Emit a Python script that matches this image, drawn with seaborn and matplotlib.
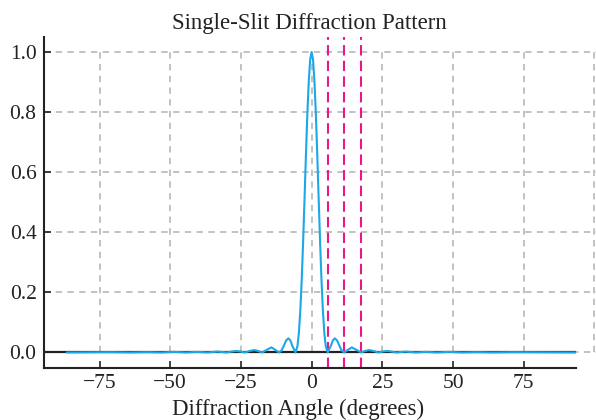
import matplotlib
matplotlib.use("Agg")
import matplotlib.pyplot as plt
import seaborn as sns
import pandas as pd

# Angles (degrees) and relative intensity
angle_deg = [
    -86.6, -71.6, -64.2, -58.1, -53.1, -48.5, -44.4, -40.4, -36.9, -33.2,
    -30.0, -28.3, -26.6, -25.1, -23.6, -21.9, -20.3, -18.9, -17.5, -15.6,
    -14.2, -12.9, -11.5, -10.6, -9.8, -9.0, -8.2, -7.5, -6.9, -5.7,
    -5.0, -4.5, -4.0, -3.5, -3.0, -2.5, -2.0, -1.5, -1.0, -0.5,
    0.0,
    0.5, 1.0, 1.5, 2.0, 2.5, 3.0, 3.5, 4.0, 4.5, 5.0,
    5.7, 6.9, 7.5, 8.2, 9.0, 9.8, 10.6, 11.5, 12.9, 14.2,
    15.6, 17.5, 18.9, 20.3, 21.9, 23.6, 25.1, 26.6, 28.3, 30.0,
    33.2, 36.9, 40.4, 44.4, 48.5, 53.1, 58.1, 64.2, 71.6, 93.4,
]
intensity = [
    0.000, 0.001, 0.000, 0.001, 0.000, 0.002, 0.000, 0.002, 0.000, 0.003,
    0.000, 0.003, 0.005, 0.003, 0.000, 0.005, 0.008, 0.005, 0.000, 0.010,
    0.017, 0.009, 0.000, 0.007, 0.023, 0.040, 0.047, 0.040, 0.024, 0.000,
    0.021, 0.065, 0.138, 0.241, 0.368, 0.511, 0.659, 0.794, 0.904, 0.975,
    1.000,
    0.975, 0.904, 0.794, 0.659, 0.511, 0.368, 0.241, 0.138, 0.065, 0.021,
    0.000, 0.024, 0.040, 0.047, 0.040, 0.023, 0.007, 0.000, 0.009, 0.017,
    0.010, 0.000, 0.005, 0.008, 0.005, 0.000, 0.003, 0.005, 0.003, 0.000,
    0.003, 0.000, 0.002, 0.000, 0.002, 0.000, 0.001, 0.000, 0.001, 0.000,
]
# first three minima marked with dashed lines
minima_deg = [5.74, 11.54, 17.46]

x_ticks = [-75, -50, -25, 0, 25, 50, 75]
x_grid = [-75, -50, -25, 0, 25, 50, 75, 100]
y_ticks = [0.0, 0.2, 0.4, 0.6, 0.8, 1.0]

df = pd.DataFrame({"angle": angle_deg, "intensity": intensity})

sns.set_theme(style="ticks")
plt.rcParams["font.family"] = ["Liberation Serif", "DejaVu Serif"]

fig = plt.figure(figsize=(5.96, 4.2), dpi=100)
ax = fig.add_axes([0.073, 0.125, 0.893, 0.787])

xmin, xmax = -94.8, max(angle_deg)
ax.set_xlim(xmin, xmax)
ax.set_ylim(-0.05, 1.05)

grid_kw = dict(color="#bdbdbd", linestyle=(0, (3.5, 3)), linewidth=1.3, zorder=0, clip_on=False)
ax.hlines(y_ticks, xmin, 103, **grid_kw)
ax.vlines(x_grid, 0, 1, **grid_kw)

ax.axhline(0, color="#222222", linewidth=1.6, zorder=1)
sns.lineplot(data=df, x="angle", y="intensity", ax=ax, color="#1ba8e6", linewidth=1.5, zorder=3)
for m in minima_deg:
    ax.axvline(m, color="#e8178a", linestyle=(0, (5, 2.5)), linewidth=1.5, zorder=2)

ax.set_xticks(x_ticks)
ax.set_yticks(y_ticks)
ax.set_xticklabels([f"\u2212{abs(t)}" if t < 0 else str(t) for t in x_ticks])
ax.set_yticklabels([f"{t:.1f}" for t in y_ticks])
ax.tick_params(direction="in", length=5, width=1.2, color="#222222", labelsize=15.5,
               labelcolor="#222222", pad=5)
for s in ["left", "bottom"]:
    ax.spines[s].set_linewidth(1.5)
    ax.spines[s].set_color("#222222")
for s in ["top", "right"]:
    ax.spines[s].set_visible(False)

ax.set_title("Single-Slit Diffraction Pattern", fontsize=16.5, color="#222222", pad=6)
ax.set_xlabel("Diffraction Angle (degrees)", fontsize=16.5, color="#222222")
ax.xaxis.set_label_coords(0.478, -0.095)
ax.set_ylabel("")

fig.savefig("out.png", dpi=100)
